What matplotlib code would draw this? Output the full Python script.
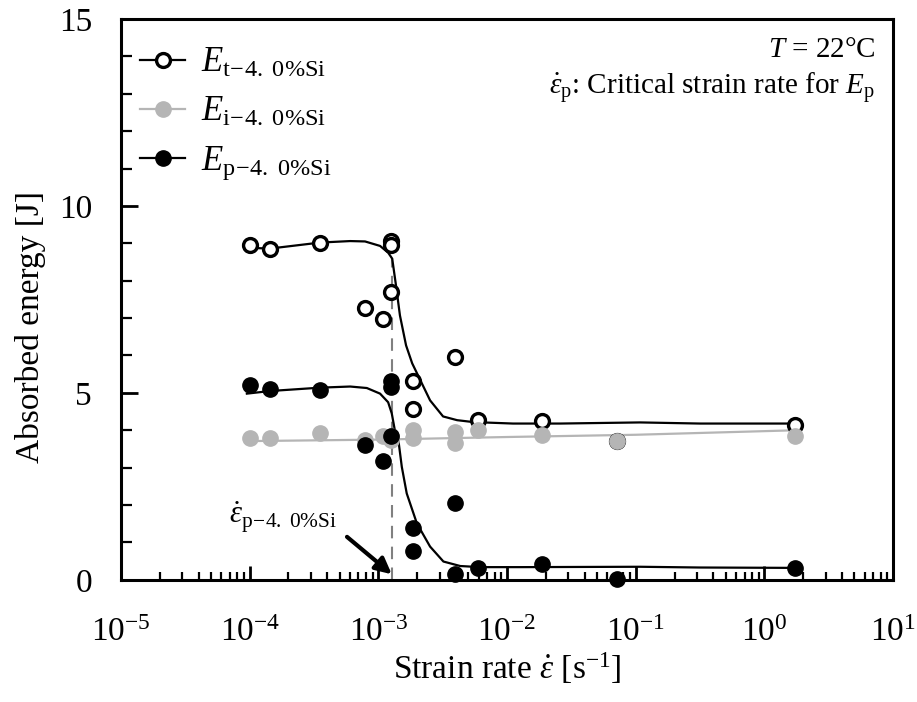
import numpy as np
import matplotlib
matplotlib.use("Agg")
import matplotlib.pyplot as plt
from matplotlib.lines import Line2D
from matplotlib.ticker import LogLocator, MultipleLocator, NullFormatter

plt.rcParams['font.family'] = ['Liberation Serif', 'DejaVu Serif']
plt.rcParams['mathtext.fontset'] = 'custom'
plt.rcParams['mathtext.rm'] = 'Liberation Serif'
plt.rcParams['mathtext.it'] = 'Liberation Serif:italic'

# ── measured points ──────────────────────────────────────────────────────────
et_x = [1.0e-4, 1.44e-4, 3.5e-4, 7.9e-4, 1.08e-3, 1.26e-3, 1.26e-3, 1.26e-3,
        1.85e-3, 1.85e-3, 3.94e-3, 5.9e-3, 1.86e-2, 7.16e-2, 1.73]
et_y = [8.95, 8.85, 9.02, 7.27, 6.98, 9.05, 8.95, 7.71,
        5.33, 4.58, 5.96, 4.27, 4.24, 3.72, 4.13]

ei_x = [1.0e-4, 1.44e-4, 3.5e-4, 7.9e-4, 1.08e-3, 1.26e-3, 1.26e-3,
        1.85e-3, 1.85e-3, 3.94e-3, 3.94e-3, 5.9e-3, 1.86e-2, 7.16e-2, 1.73]
ei_y = [3.79, 3.79, 3.92, 3.73, 3.84, 3.85, 3.75,
        4.0, 3.79, 3.95, 3.66, 4.0, 3.87, 3.70, 3.84]

ep_x = [1.0e-4, 1.44e-4, 3.5e-4, 7.9e-4, 1.08e-3, 1.26e-3, 1.26e-3, 1.26e-3,
        1.85e-3, 1.85e-3, 3.94e-3, 3.94e-3, 5.9e-3, 1.86e-2, 7.16e-2, 1.73]
ep_y = [5.20, 5.11, 5.08, 3.60, 3.17, 5.33, 5.17, 3.84,
        1.38, 0.78, 2.06, 0.16, 0.31, 0.42, 0.02, 0.31]

# ── fitted curves ────────────────────────────────────────────────────────────
et_cx = [9.5e-5, 1.44e-4, 3.52e-4, 6.03e-4, 7.87e-4, 1.03e-3, 1.19e-3, 1.28e-3,
         1.37e-3, 1.47e-3, 1.64e-3, 1.83e-3, 2.52e-3, 3.18e-3, 4.09e-3, 5.44e-3,
         1.11e-2, 2.58e-2, 0.108, 0.316, 1.73]
et_cy = [8.88, 8.86, 9.02, 9.06, 9.05, 8.93, 8.75, 8.59,
         7.87, 7.07, 6.27, 5.79, 4.80, 4.37, 4.27, 4.22,
         4.18, 4.18, 4.21, 4.18, 4.18]

ei_cx = [9.5e-5, 1.0e-3, 1.0e-2, 1.0e-1, 1.73]
ei_cy = [3.71, 3.75, 3.82, 3.88, 4.0]

ep_cx = [9.5e-5, 1.44e-4, 3.52e-4, 6.03e-4, 8.13e-4, 1.03e-3, 1.19e-3, 1.27e-3,
         1.35e-3, 1.43e-3, 1.52e-3, 1.66e-3, 1.99e-3, 2.52e-3, 3.20e-3, 4.32e-3,
         6.17e-3, 1.26e-2, 0.108, 0.316, 1.73]
ep_cy = [4.98, 5.05, 5.14, 5.17, 5.13, 4.98, 4.75, 4.45,
         3.95, 3.73, 3.02, 2.31, 1.51, 0.89, 0.49, 0.37,
         0.34, 0.34, 0.35, 0.33, 0.32]

crit_rate = 1.27e-3
crit_top = 8.6

GRAY = '#b5b5b5'

fig = plt.figure(figsize=(9.17, 7.02), dpi=100)
ax = fig.add_axes([0.132, 0.174, 0.842, 0.799])
ax.set_xscale('log')

# curves
ax.plot(et_cx, et_cy, '-', color='k', lw=1.6, zorder=2)
ax.plot(ei_cx, ei_cy, '-', color=GRAY, lw=1.6, zorder=2)
ax.plot(ep_cx, ep_cy, '-', color='k', lw=1.6, zorder=2)

# critical strain rate marker
ax.plot([crit_rate, crit_rate], [0, crit_top], '--', color='#808080',
        lw=1.5, dashes=(6, 4), zorder=1)

# points
ax.plot(et_x, et_y, 'o', ms=10, mfc='white', mec='k', mew=2.4, ls='none',
        zorder=3, clip_on=False)
ax.plot(ep_x, ep_y, 'o', ms=11, mfc='k', mec='k', ls='none', zorder=4,
        clip_on=False)
ax.plot(ei_x, ei_y, 'o', ms=11, mfc=GRAY, mec=GRAY, ls='none', zorder=3,
        clip_on=False)

ax.set_xlim(1e-5, 10)
ax.set_ylim(0, 15)
ax.xaxis.set_major_locator(LogLocator(base=10, numticks=10))
ax.xaxis.set_minor_locator(LogLocator(base=10, subs=np.arange(2, 10), numticks=20))
ax.xaxis.set_minor_formatter(NullFormatter())
ax.yaxis.set_major_locator(MultipleLocator(5))
ax.yaxis.set_minor_locator(MultipleLocator(1))

for s in ax.spines.values():
    s.set_linewidth(2.2)
ax.tick_params(which='major', direction='in', length=10, width=2,
               labelsize=24, top=False, right=False)
ax.tick_params(which='minor', direction='in', length=6, width=1.6,
               top=False, right=False)
ax.tick_params(axis='x', which='major', pad=27)
ax.tick_params(axis='y', which='major', length=12, pad=21)
ax.tick_params(axis='y', which='minor', length=8)

ax.set_xlabel(r'Strain rate $\dot{\varepsilon}$ [s$^{-1}$]', fontsize=24, labelpad=2)
ax.set_ylabel('Absorbed energy [J]', fontsize=24)
ax.yaxis.set_label_coords(-0.097, 0.45)

# legend
handles = [
    Line2D([], [], color='k', lw=1.6, marker='o', ms=10, mfc='white', mec='k', mew=2.4),
    Line2D([], [], color=GRAY, lw=1.6, marker='o', ms=11, mfc=GRAY, mec=GRAY),
    Line2D([], [], color='k', lw=1.6, marker='o', ms=11, mfc='k', mec='k'),
]
labels = [r'$E_{\mathrm{t\!-\!4.\ 0\%Si}}$',
          r'$E_{\mathrm{i\!-\!4.\ 0\%Si}}$',
          r'$E_{\mathrm{p\!-\!4.\ 0\%Si}}$']
ax.legend(handles, labels, loc='upper left', bbox_to_anchor=(0.025, 0.95),
          frameon=False, fontsize=25, handlelength=1.3, handletextpad=0.45,
          labelspacing=0.45, borderaxespad=0, borderpad=0)

# annotations
ax.text(0.977, 0.944, r'$T$ = 22°C', transform=ax.transAxes, ha='right',
        va='center', fontsize=21)
ax.text(0.977, 0.876, r'$\dot{\varepsilon}_{\mathrm{p}}$: Critical strain rate for $E_{\mathrm{p}}$',
        transform=ax.transAxes, ha='right', va='center', fontsize=21)
ax.text(4.8e-4, 1.2, r'$\dot{\varepsilon}_{\mathrm{p\!-\!4.\ 0\%Si}}$',
        ha='right', va='bottom', fontsize=22)
ax.annotate('', xy=(crit_rate, 0.15), xytext=(5.7e-4, 1.15),
            arrowprops=dict(arrowstyle='-|>', lw=3, color='k',
                            mutation_scale=24, shrinkA=0, shrinkB=0))

fig.savefig('out.png', dpi=100)
